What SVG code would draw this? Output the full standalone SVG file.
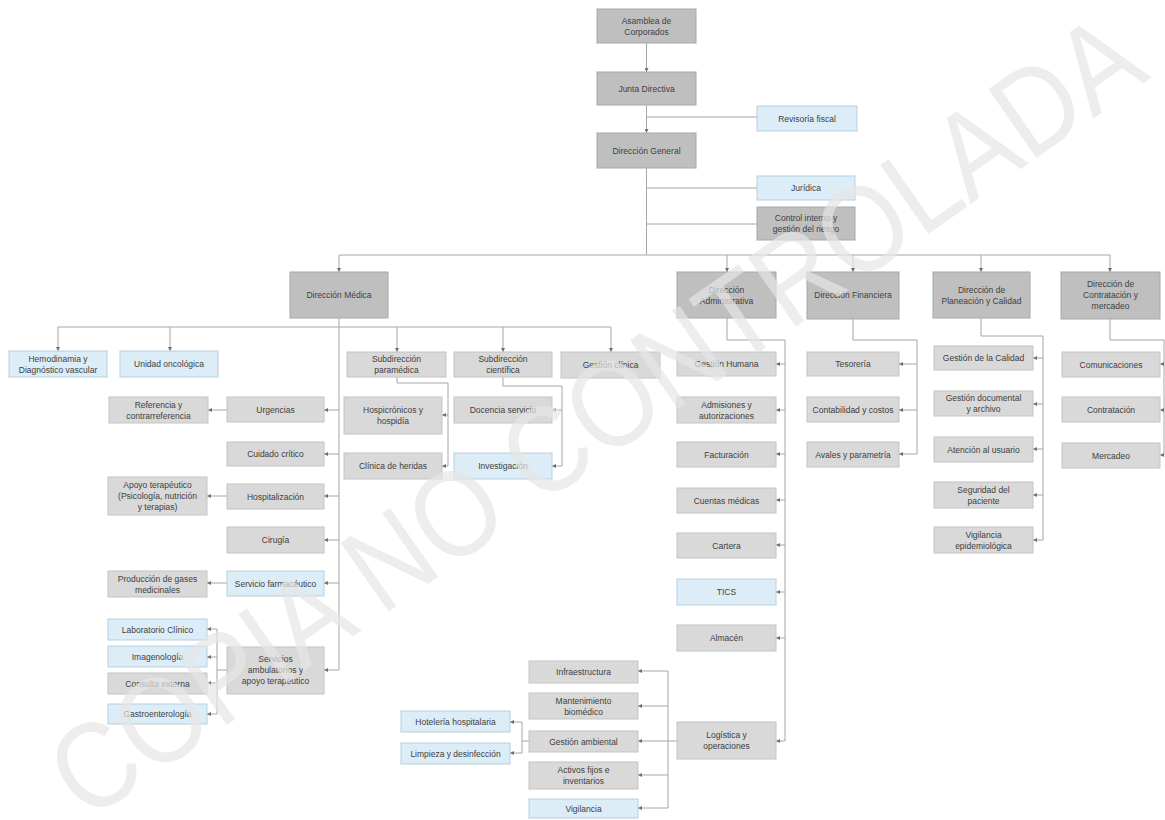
<svg xmlns="http://www.w3.org/2000/svg" width="1165" height="820" viewBox="0 0 1165 820">
<style>
.d{fill:#bfbfbf;stroke:#a8a8a8;stroke-width:1}
.l{fill:#d9d9d9;stroke:#c4c4c4;stroke-width:1}
.b{fill:#dcedf8;stroke:#b5cfdf;stroke-width:1}
text{font-family:"Liberation Sans",Arial,sans-serif;font-size:8.5px;fill:#404040;text-anchor:middle}
.c{fill:none;stroke:#a6a6a6;stroke-width:1}
.a{marker-end:url(#ah)}
.wm{font-family:"Liberation Sans",Arial,sans-serif;font-size:122px;fill:#e6e6e6;opacity:0.7;text-anchor:middle}
</style>
<defs>
<marker id="ah" markerUnits="userSpaceOnUse" markerWidth="4" markerHeight="4" refX="4" refY="2" orient="auto">
<path d="M0,0 L4,2 L0,4 z" fill="#707070"/>
</marker>
</defs>
<rect width="1165" height="820" fill="#ffffff"/>
<g id="connectors">
<path class="c a" d="M646.5,43 V72"/>
<path class="c a" d="M646.5,105 V133"/>
<path class="c" d="M646.5,117 H757"/>
<path class="c" d="M646.5,168 V255"/>
<path class="c" d="M646.5,188 H757"/>
<path class="c" d="M646.5,224 H757"/>
<path class="c" d="M339,255 H1110"/>
<path class="c a" d="M339,255 V272"/>
<path class="c a" d="M727,255 V272"/>
<path class="c a" d="M853,255 V272"/>
<path class="c a" d="M981,255 V272"/>
<path class="c a" d="M1110,255 V272"/>
<path class="c a" d="M339,317 V670 H324"/>
<path class="c a" d="M339,410 H324"/>
<path class="c a" d="M339,454 H324"/>
<path class="c a" d="M339,496 H324"/>
<path class="c a" d="M339,540 H324"/>
<path class="c a" d="M339,583 H324"/>
<path class="c" d="M58,327 H611"/>
<path class="c a" d="M58,327 V351"/>
<path class="c a" d="M170,327 V351"/>
<path class="c a" d="M397,327 V352"/>
<path class="c a" d="M503,327 V352"/>
<path class="c a" d="M611,327 V352"/>
<path class="c a" d="M227,410 H208"/>
<path class="c a" d="M227,496 H207"/>
<path class="c a" d="M227,583 H207"/>
<path class="c" d="M227,670 H217 M217,629 V714"/>
<path class="c a" d="M217,629 H207"/>
<path class="c a" d="M217,657 H207"/>
<path class="c a" d="M217,683 H207"/>
<path class="c a" d="M217,714 H207"/>
<path class="c a" d="M397,377 V383 H448 V466 H442"/>
<path class="c a" d="M448,415 H442"/>
<path class="c a" d="M503,377 V386 H562 V466 H552"/>
<path class="c a" d="M562,410 H552"/>
<path class="c a" d="M727,318 V340 H785 V741 H776"/>
<path class="c a" d="M785,364 H776"/>
<path class="c a" d="M785,410 H776"/>
<path class="c a" d="M785,454 H776"/>
<path class="c a" d="M785,500 H776"/>
<path class="c a" d="M785,545 H776"/>
<path class="c a" d="M785,592 H776"/>
<path class="c a" d="M785,638 H776"/>
<path class="c" d="M677,741 H668 M668,671 V808"/>
<path class="c a" d="M668,671 H638"/>
<path class="c a" d="M668,706 H638"/>
<path class="c a" d="M668,741 H638"/>
<path class="c a" d="M668,775 H638"/>
<path class="c a" d="M668,808 H638"/>
<path class="c" d="M529,741 H522 M522,722 V753"/>
<path class="c a" d="M522,722 H510"/>
<path class="c a" d="M522,753 H510"/>
<path class="c a" d="M853,319 V340 H917 V454 H899"/>
<path class="c a" d="M917,364 H899"/>
<path class="c a" d="M917,410 H899"/>
<path class="c a" d="M981,318 V336 H1043 V540 H1033"/>
<path class="c a" d="M1043,358 H1033"/>
<path class="c a" d="M1043,404 H1033"/>
<path class="c a" d="M1043,449 H1033"/>
<path class="c a" d="M1043,495 H1033"/>
<path class="c" d="M1110,319 V340 H1164 V455"/>
<path class="c a" d="M1164,364 H1160"/>
<path class="c a" d="M1164,410 H1160"/>
<path class="c a" d="M1164,455 H1160"/>
</g>
<g id="asamblea"><rect class="d" x="597" y="9" width="99" height="34"/><text x="646.5" y="23.5">Asamblea de</text><text x="646.5" y="34.5">Corporados</text></g>
<g id="junta"><rect class="d" x="597" y="72" width="99" height="33"/><text x="646.5" y="91.5">Junta Directiva</text></g>
<g id="revisoria"><rect class="b" x="757" y="106" width="100" height="25"/><text x="807" y="121.5">Revisoría fiscal</text></g>
<g id="dirgen"><rect class="d" x="597" y="133" width="99" height="35"/><text x="646.5" y="153.5">Dirección General</text></g>
<g id="juridica"><rect class="b" x="757" y="176" width="98" height="24"/><text x="806" y="191">Jurídica</text></g>
<g id="control"><rect class="d" x="757" y="207" width="98" height="33"/><text x="806" y="221">Control interno y</text><text x="806" y="232">gestión del riesgo</text></g>
<g id="dirmed"><rect class="d" x="290" y="272" width="98" height="46"/><text x="339" y="298">Dirección Médica</text></g>
<g id="diradm"><rect class="d" x="677" y="272" width="99" height="46"/><text x="726.5" y="292.5">Dirección</text><text x="726.5" y="303.5">Administrativa</text></g>
<g id="dirfin"><rect class="d" x="807" y="272" width="92" height="47"/><text x="853" y="298">Dirección Financiera</text></g>
<g id="dirplan"><rect class="d" x="933" y="272" width="97" height="46"/><text x="981.5" y="292.5">Dirección de</text><text x="981.5" y="303.5">Planeación y Calidad</text></g>
<g id="dircon"><rect class="d" x="1061" y="272" width="99" height="47"/><text x="1110.5" y="287">Dirección de</text><text x="1110.5" y="298">Contratación y</text><text x="1110.5" y="309">mercadeo</text></g>
<g id="hemo"><rect class="b" x="9" y="351" width="98" height="26"/><text x="58" y="361.5">Hemodinamia y</text><text x="58" y="372.5">Diagnóstico vascular</text></g>
<g id="onco"><rect class="b" x="120" y="351" width="98" height="26"/><text x="169" y="367">Unidad oncológica</text></g>
<g id="subpara"><rect class="l" x="347" y="352" width="99" height="25"/><text x="396.5" y="362">Subdirección</text><text x="396.5" y="373">paramédica</text></g>
<g id="subcien"><rect class="l" x="454" y="352" width="98" height="25"/><text x="503" y="362">Subdirección</text><text x="503" y="373">científica</text></g>
<g id="gesclin"><rect class="l" x="561" y="352" width="99" height="26"/><text x="610.5" y="368">Gestión clínica</text></g>
<g id="urgencias"><rect class="l" x="227" y="397" width="97" height="25"/><text x="275.5" y="412.5">Urgencias</text></g>
<g id="referencia"><rect class="l" x="109" y="397" width="99" height="26"/><text x="158.5" y="407.5">Referencia y</text><text x="158.5" y="418.5">contrarreferencia</text></g>
<g id="cuidado"><rect class="l" x="227" y="442" width="97" height="24"/><text x="275.5" y="457">Cuidado crítico</text></g>
<g id="hospicronicos"><rect class="l" x="344" y="397" width="98" height="37"/><text x="393" y="413">Hospicrónicos y</text><text x="393" y="424">hospidía</text></g>
<g id="docencia"><rect class="l" x="454" y="397" width="98" height="26"/><text x="503" y="413">Docencia servicio</text></g>
<g id="heridas"><rect class="l" x="344" y="453" width="98" height="26"/><text x="393" y="469">Clínica de heridas</text></g>
<g id="investigacion"><rect class="b" x="454" y="453" width="98" height="26"/><text x="503" y="469">Investigación</text></g>
<g id="apoyo"><rect class="l" x="108" y="477" width="99" height="38"/><text x="157.5" y="488">Apoyo terapéutico</text><text x="157.5" y="499">(Psicología, nutrición</text><text x="157.5" y="510">y terapias)</text></g>
<g id="hospitalizacion"><rect class="l" x="227" y="484" width="97" height="25"/><text x="275.5" y="499.5">Hospitalización</text></g>
<g id="cirugia"><rect class="l" x="227" y="527" width="97" height="26"/><text x="275.5" y="543">Cirugía</text></g>
<g id="farmaceutico"><rect class="b" x="227" y="571" width="97" height="25"/><text x="275.5" y="586.5">Servicio farmacéutico</text></g>
<g id="gases"><rect class="l" x="108" y="571" width="99" height="26"/><text x="157.5" y="581.5">Producción de gases</text><text x="157.5" y="592.5">medicinales</text></g>
<g id="laboratorio"><rect class="b" x="108" y="619" width="99" height="21"/><text x="157.5" y="632.5">Laboratorio Clínico</text></g>
<g id="imagenologia"><rect class="b" x="108" y="646" width="99" height="21"/><text x="157.5" y="659.5">Imagenología</text></g>
<g id="consulta"><rect class="l" x="108" y="673" width="99" height="21"/><text x="157.5" y="686.5">Consulta externa</text></g>
<g id="gastro"><rect class="b" x="108" y="704" width="99" height="20"/><text x="157.5" y="717">Gastroenterología</text></g>
<g id="ambulatorios"><rect class="l" x="227" y="647" width="97" height="47"/><text x="275.5" y="662">Servicios</text><text x="275.5" y="673">ambulatorios y</text><text x="275.5" y="684">apoyo terapéutico</text></g>
<g id="gestionhumana"><rect class="l" x="677" y="352" width="99" height="24"/><text x="726.5" y="367">Gestión Humana</text></g>
<g id="admisiones"><rect class="l" x="677" y="397" width="99" height="26"/><text x="726.5" y="407.5">Admisiones y</text><text x="726.5" y="418.5">autorizaciones</text></g>
<g id="facturacion"><rect class="l" x="677" y="442" width="99" height="25"/><text x="726.5" y="457.5">Facturación</text></g>
<g id="cuentas"><rect class="l" x="677" y="488" width="99" height="25"/><text x="726.5" y="503.5">Cuentas médicas</text></g>
<g id="cartera"><rect class="l" x="677" y="533" width="99" height="25"/><text x="726.5" y="548.5">Cartera</text></g>
<g id="tics"><rect class="b" x="677" y="579" width="99" height="26"/><text x="726.5" y="595">TICS</text></g>
<g id="almacen"><rect class="l" x="677" y="625" width="99" height="26"/><text x="726.5" y="641">Almacén</text></g>
<g id="logistica"><rect class="l" x="677" y="722" width="99" height="37"/><text x="726.5" y="738">Logística y</text><text x="726.5" y="749">operaciones</text></g>
<g id="infraestructura"><rect class="l" x="529" y="661" width="109" height="22"/><text x="583.5" y="675">Infraestructura</text></g>
<g id="mantenimiento"><rect class="l" x="529" y="693" width="109" height="26"/><text x="583.5" y="703.5">Mantenimiento</text><text x="583.5" y="714.5">biomédico</text></g>
<g id="ambiental"><rect class="l" x="529" y="731" width="109" height="21"/><text x="583.5" y="744.5">Gestión ambiental</text></g>
<g id="activos"><rect class="l" x="529" y="762" width="109" height="27"/><text x="583.5" y="773">Activos fijos e</text><text x="583.5" y="784">inventarios</text></g>
<g id="vigilancia"><rect class="b" x="529" y="799" width="109" height="19"/><text x="583.5" y="811.5">Vigilancia</text></g>
<g id="hoteleria"><rect class="b" x="401" y="711" width="109" height="21"/><text x="455.5" y="724.5">Hotelería hospitalaria</text></g>
<g id="limpieza"><rect class="b" x="401" y="743" width="109" height="21"/><text x="455.5" y="756.5">Limpieza y desinfección</text></g>
<g id="tesoreria"><rect class="l" x="807" y="352" width="92" height="24"/><text x="853" y="367">Tesorería</text></g>
<g id="contabilidad"><rect class="l" x="807" y="397" width="92" height="25"/><text x="853" y="412.5">Contabilidad y costos</text></g>
<g id="avales"><rect class="l" x="807" y="442" width="92" height="25"/><text x="853" y="457.5">Avales y parametría</text></g>
<g id="calidad"><rect class="l" x="934" y="346" width="99" height="24"/><text x="983.5" y="361">Gestión de la Calidad</text></g>
<g id="documental"><rect class="l" x="934" y="391" width="99" height="25"/><text x="983.5" y="401">Gestión documental</text><text x="983.5" y="412">y archivo</text></g>
<g id="atencion"><rect class="l" x="934" y="437" width="99" height="25"/><text x="983.5" y="452.5">Atención al usuario</text></g>
<g id="seguridad"><rect class="l" x="934" y="482" width="99" height="26"/><text x="983.5" y="492.5">Seguridad del</text><text x="983.5" y="503.5">paciente</text></g>
<g id="vigepi"><rect class="l" x="934" y="527" width="99" height="26"/><text x="983.5" y="537.5">Vigilancia</text><text x="983.5" y="548.5">epidemiológica</text></g>
<g id="comunicaciones"><rect class="l" x="1062" y="352" width="98" height="25"/><text x="1111" y="367.5">Comunicaciones</text></g>
<g id="contratacion"><rect class="l" x="1062" y="397" width="98" height="25"/><text x="1111" y="412.5">Contratación</text></g>
<g id="mercadeo"><rect class="l" x="1062" y="443" width="98" height="25"/><text x="1111" y="458.5">Mercadeo</text></g>
<text class="wm" x="0" y="0" dy="0.35em" textLength="1300" lengthAdjust="spacingAndGlyphs" transform="translate(595,415) rotate(-35)">COPIA NO CONTROLADA</text>
</svg>
